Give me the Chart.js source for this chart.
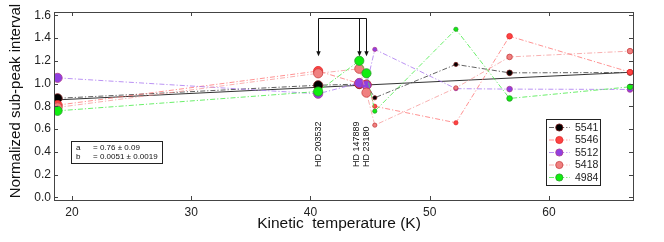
<!DOCTYPE html>
<html><head><meta charset="utf-8">
<script src="https://cdn.jsdelivr.net/npm/chart.js@4/dist/chart.umd.min.js"></script>
<style>html,body{margin:0;padding:0;background:#fff;}canvas{display:block;}</style>
</head><body>
<canvas id="c" width="664" height="242"></canvas>
<script>
// ---- data ----
const temps  = [18.8, 40.65, 44.1, 44.7, 45.4, 52.2, 56.7, 66.8];
const s5541  = [0.87, 0.985, 0.995, 0.99, 0.875, 1.168, 1.094, 1.097];
const s5546  = [0.81, 1.11, 1.00, 0.99, 0.80, 0.655, 1.416, 1.10];
const s5512  = [1.05, 0.91, 1.005, 0.985, 1.30, 0.955, 0.951, 0.948];
const s5418  = [0.79, 1.09, 1.13, 0.92, 0.634, 0.962, 1.234, 1.285];
const s4984  = [0.76, 0.93, 1.20, 1.09, 0.757, 1.477, 0.869, 0.971];
const seriesNames = ['5541', '5546', '5512', '5418', '4984'];
const fitT = [18.5, 67.05];
const fitV = [0.855, 1.100];
const xTicks = [20, 30, 40, 50, 60];
const yTicks = [0, 0.2, 0.4, 0.6, 0.8, 1.0, 1.2, 1.4, 1.6];
const starNames = ['HD 203532', 'HD 147889', 'HD 23180'];
const starTemps = [40.65, 44.1, 44.7];
const fitText = [['a', '= 0.76 \u00b1 0.09'], ['b', '= 0.0051 \u00b1 0.0019']];

// ---- styles ----
const styles = [
  {line: 'rgba(70,70,70,0.85)',   fill: '#000000', edge: '#7a1a1a'},
  {line: 'rgba(255,110,110,0.75)', fill: '#ff4242', edge: '#e02a2a'},
  {line: 'rgba(170,120,240,0.8)', fill: '#9040e0', edge: '#b03a90'},
  {line: 'rgba(245,150,150,0.75)', fill: '#f08080', edge: '#c84040'},
  {line: 'rgba(70,235,70,0.8)',  fill: '#10ee10', edge: '#2a9a2a'}
];
const radii = [4.6, 4.6, 4.6, 4.6, 2.1, 2.1, 2.8, 2.8];
const dash = [5, 2, 1.2, 2];
const allSeries = [s5541, s5546, s5512, s5418, s4984];
const drawOrder = [4, 3, 2, 1, 0];

const datasets = allSeries.map((vals, i) => ({
  label: seriesNames[i],
  data: temps.map((t, k) => ({x: t, y: vals[k]})),
  showLine: true,
  borderColor: styles[i].line,
  borderWidth: 1,
  borderDash: dash,
  pointBackgroundColor: styles[i].fill,
  pointBorderColor: styles[i].edge,
  pointBorderWidth: 0.8,
  pointRadius: radii,
  order: drawOrder[i]
}));
datasets.push({
  label: 'fit',
  data: fitT.map((t, k) => ({x: t, y: fitV[k]})),
  showLine: true,
  borderColor: '#333',
  borderWidth: 1,
  pointRadius: 0,
  order: 10
});

const FONT = '"Liberation Sans", Arial, Helvetica, sans-serif';

const decor = {
  id: 'decor',
  afterDatasetsDraw(chart) {
    const ctx = chart.ctx, a = chart.chartArea;
    const xs = chart.scales.x, ys = chart.scales.y;
    ctx.save();
    // frame
    ctx.strokeStyle = '#444'; ctx.lineWidth = 1;
    ctx.strokeRect(Math.round(a.left) + 0.5, Math.round(a.top) + 0.5,
                   Math.round(a.right - a.left), Math.round(a.bottom - a.top));
    // inward ticks
    ctx.beginPath();
    xTicks.forEach(v => {
      const p = Math.round(xs.getPixelForValue(v)) + 0.5;
      ctx.moveTo(p, a.bottom); ctx.lineTo(p, a.bottom - 4);
      ctx.moveTo(p, a.top); ctx.lineTo(p, a.top + 4);
    });
    yTicks.forEach(v => {
      const p = Math.round(ys.getPixelForValue(v)) + 0.5;
      ctx.moveTo(a.left, p); ctx.lineTo(a.left + 4, p);
      ctx.moveTo(a.right, p); ctx.lineTo(a.right - 4, p);
    });
    ctx.stroke();

    // axis titles
    ctx.fillStyle = '#111';
    ctx.font = '15.5px ' + FONT;
    ctx.textAlign = 'center'; ctx.textBaseline = 'middle';
    ctx.fillText('Kinetic  temperature (K)', 339, 224);
    ctx.font = '15px ' + FONT;
    ctx.save();
    ctx.translate(16, 101); ctx.rotate(-Math.PI / 2);
    ctx.fillText('Normalized sub-peak interval', 0, 0);
    ctx.restore();

    // arrows
    const topY = Math.round(ys.getPixelForValue(1.58)) + 0.5;
    const tipY = ys.getPixelForValue(1.24);
    const px = starTemps.map(t => Math.round(xs.getPixelForValue(t)) + 0.5);
    ctx.strokeStyle = '#111'; ctx.fillStyle = '#111'; ctx.lineWidth = 1;
    ctx.beginPath();
    ctx.moveTo(px[0], topY); ctx.lineTo(px[2], topY);
    px.forEach(p => { ctx.moveTo(p, topY); ctx.lineTo(p, tipY - 4); });
    ctx.stroke();
    px.forEach(p => {
      ctx.beginPath();
      ctx.moveTo(p - 2.2, tipY - 5); ctx.lineTo(p + 2.2, tipY - 5); ctx.lineTo(p, tipY);
      ctx.closePath(); ctx.fill();
    });

    // star labels (rotated)
    ctx.font = '9px ' + FONT;
    ctx.textAlign = 'left'; ctx.textBaseline = 'middle';
    const labX = [px[0], px[1] - 2.5, px[2]];
    const labY = ys.getPixelForValue(0.266);
    starNames.forEach((s, i) => {
      ctx.save();
      ctx.translate(labX[i], labY); ctx.rotate(-Math.PI / 2);
      ctx.fillText(s, 0, 0);
      ctx.restore();
    });

    // fit parameter box
    ctx.strokeStyle = '#222'; ctx.lineWidth = 1;
    ctx.strokeRect(71.5, 141.5, 91, 22);
    ctx.fillStyle = '#111';
    ctx.font = '8px ' + FONT;
    fitText.forEach((r, i) => {
      ctx.fillText(r[0], 76, 147.5 + i * 9);
      ctx.fillText(r[1], 93, 147.5 + i * 9);
    });

    // legend
    ctx.strokeStyle = '#222';
    ctx.strokeRect(546.5, 119.5, 54, 66);
    ctx.font = '10.5px ' + FONT;
    seriesNames.forEach((n, i) => {
      const y = 127.5 + i * 12.5;
      ctx.save();
      ctx.strokeStyle = styles[i].line; ctx.lineWidth = 1; ctx.setLineDash(dash);
      ctx.beginPath(); ctx.moveTo(549, y); ctx.lineTo(570, y); ctx.stroke();
      ctx.restore();
      ctx.beginPath(); ctx.arc(559.3, y, 3.6, 0, Math.PI * 2);
      ctx.fillStyle = styles[i].fill; ctx.fill();
      ctx.strokeStyle = styles[i].edge; ctx.lineWidth = 0.8; ctx.stroke();
      ctx.fillStyle = '#222';
      ctx.fillText(n, 575, y + 0.5);
    });
    ctx.restore();
  }
};

new Chart(document.getElementById('c'), {
  type: 'scatter',
  data: {datasets},
  options: {
    responsive: false,
    animation: false,
    devicePixelRatio: 1,
    layout: {padding: {left: 0, right: 31, top: 12, bottom: 0}},
    plugins: {legend: {display: false}, tooltip: {enabled: false}},
    scales: {
      x: {
        type: 'linear', min: 18.5, max: 67.05,
        afterBuildTicks: s => { s.ticks = xTicks.map(v => ({value: v})); },
        afterFit: s => { s.height = 42; },
        grid: {display: false, drawTicks: false},
        border: {display: false},
        ticks: {color: '#222', font: {size: 12, family: FONT}, padding: 5, maxRotation: 0,
                callback: v => String(v)}
      },
      y: {
        type: 'linear', min: -0.024, max: 1.629,
        afterBuildTicks: s => { s.ticks = yTicks.map(v => ({value: v})); },
        afterFit: s => { s.width = 54; },
        grid: {display: false, drawTicks: false},
        border: {display: false},
        ticks: {color: '#222', font: {size: 12, family: FONT}, padding: 3,
                callback: v => Number(v).toFixed(1)}
      }
    }
  },
  plugins: [decor]
});
</script>
</body></html>
